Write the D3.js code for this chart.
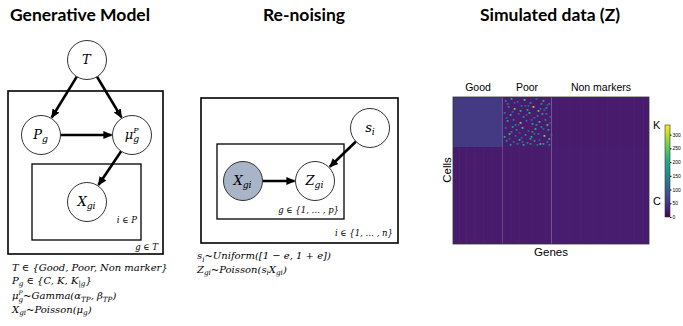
<!DOCTYPE html>
<html>
<head>
<meta charset="utf-8">
<script src="https://cdn.jsdelivr.net/npm/d3@7"></script>
<style>
  body { margin: 0; background: #fff; }
  svg { display: block; }
</style>
</head>
<body>
<svg id="chart"></svg>
<script>
// ---- data ----
const panelTitles = ["Generative Model", "Re-noising", "Simulated data (Z)"]

const geneGroups = ["Good", "Poor", "Non markers"]
const geneCounts = [50, 49, 98]
const cellGroups = ["K", "C"]
const cellCounts = [50, 97]
// mean count per block: rows = cell groups, cols = gene groups
const blockMeans = [
  [55, 26, 24],
  [24, 24, 25],
]
// faint gene stripes: [gene, value]
const geneStripes = [
  [6, 34], [13, 36], [21, 33], [30, 35], [38, 34], [57, 33], [66, 35], [79, 34],
  [92, 32], [104, 34], [117, 33], [128, 35], [141, 33], [155, 34], [168, 32], [182, 34], [191, 33],
]
// bright spots in the Poor / K block: [gene, cell, value]
const poorSpots = [
  [2,3,150],[8,1,200],[14,4,120],[21,2,240],[27,5,160],[33,1,110],[40,3,210],[46,6,140],
  [5,9,170],[11,11,260],[18,8,130],[24,12,190],[30,9,290],[37,11,120],[43,10,170],
  [1,15,140],[7,17,220],[15,16,100],[20,19,170],[26,15,230],[34,18,130],[39,16,190],[47,19,110],
  [4,23,200],[10,22,130],[17,25,270],[23,23,120],[29,26,180],[36,24,220],[42,22,140],
  [2,30,120],[9,29,190],[13,32,150],[19,30,240],[25,33,110],[32,31,210],[38,29,150],[45,32,180],
  [6,36,230],[12,38,120],[22,37,170],[28,39,200],[35,36,130],[41,38,280],[48,37,140],
  [3,43,160],[10,44,110],[16,42,210],[24,45,140],[31,43,180],[37,46,230],[44,44,120],
  [7,47,170],[14,46,130],[20,47,200],[27,46,150],[34,47,110],[40,46,190],[46,47,140],
  [4,6,130],[17,13,210],[31,20,120],[44,27,240],[8,34,160],[27,41,190],[38,6,170],[12,27,140],
  [22,8,110],[35,13,250],[46,41,210],[19,44,120],[29,34,150],[43,16,130],[1,39,200],[33,27,160],
  [11,5,90],[25,8,100],[41,12,95],[3,20,110],[15,27,90],[28,22,105],[40,31,100],[6,41,95],
  [18,40,105],[36,42,90],[47,25,100],[23,17,95],[9,14,110],[31,36,100],[44,7,95],[16,35,90],
]
const colorTicks = [0, 50, 100, 150, 200, 250, 300]
const colorMax = 335

// graphical model nodes and edges
const genNodes = [
  { id: "T", label: ["T"] },
  { id: "P", label: ["P", { sub: "g" }] },
  { id: "mu", label: ["μ", { sub: "g", sup: "P" }] },
  { id: "X", label: ["X", { sub: "gi" }] },
]
const genEdges = [["T", "P"], ["T", "mu"], ["P", "mu"], ["mu", "X"]]
const noiseNodes = [
  { id: "s", label: ["s", { sub: "i" }] },
  { id: "X2", label: ["X", { sub: "gi" }], observed: true },
  { id: "Z", label: ["Z", { sub: "gi" }] },
]
const noiseEdges = [["X2", "Z"], ["s", "Z"]]

const genFormulas = [
  ["T ∈ {Good, Poor, Non marker}"],
  ["P", { sub: "g" }, " ∈ {C, K, K", { sub: "|g" }, "}"],
  ["μ", { sub: "g", sup: "P" }, "~Gamma(α", { sub: "TP" }, ", β", { sub: "TP" }, ")"],
  ["X", { sub: "gi" }, "~Poisson(μ", { sub: "g" }, ")"],
]
const noiseFormulas = [
  ["s", { sub: "i" }, "~Uniform([1 − e, 1 + e])"],
  ["Z", { sub: "gi" }, "~Poisson(s", { sub: "i" }, "X", { sub: "gi" }, ")"],
]
const plateLabels = ["i ∈ P", "g ∈ T", "g ∈ {1, … , p}", "i ∈ {1, … , n}"]

// ---- layout ----
const width = 683, height = 326
const nodePos = {
  T: [87, 60], P: [41, 135], mu: [132, 135], X: [87, 202],
  s: [370, 128], X2: [243, 181], Z: [315, 181],
}
const nodeR = 19.5
const mathFont = "DejaVu Serif"
const sansFont = "Liberation Sans, Arial, sans-serif"

const svg = d3.select("#chart").attr("width", width).attr("height", height)

const defs = svg.append("defs")
defs.append("marker")
  .attr("id", "arrow")
  .attr("viewBox", "0 -5 10 10")
  .attr("refX", 9).attr("refY", 0)
  .attr("markerUnits", "userSpaceOnUse")
  .attr("markerWidth", 9).attr("markerHeight", 9)
  .attr("orient", "auto")
  .append("path").attr("d", "M0,-4.5L10,0L0,4.5Z").attr("fill", "#000")

// titles
const titleX = [80, 304, 550]
svg.selectAll("text.title")
  .data(panelTitles)
  .join("text")
  .attr("class", "title")
  .attr("x", (d, i) => titleX[i]).attr("y", 21)
  .attr("text-anchor", "middle")
  .attr("font-family", "Lato, 'Open Sans', sans-serif")
  .attr("font-weight", "bold")
  .attr("font-size", 17.5)
  .text((d) => d)

// write math-ish text made of plain / sub / sup segments
// a sub+sup pair: the sup is drawn as its own small text above the sub
function mathText(parent, x, y, segs, size, attrs, supLift) {
  const t = parent.append("text").attr("x", x).attr("y", y)
  attrs(t)
  let shift = 0
  const extras = []
  segs.forEach((s) => {
    if (typeof s === "string") {
      t.append("tspan").attr("dy", -shift).text(s)
      shift = 0
    } else {
      const sub = t.append("tspan").attr("font-size", size * 0.72)
        .attr("dy", size * 0.25 - shift).text(s.sub)
      shift = size * 0.25
      if (s.sup) extras.push({ sub, sup: s.sup })
    }
  })
  const n = t.node()
  const spans = Array.from(n.querySelectorAll("tspan"))
  extras.forEach((e) => {
    const idx = spans.indexOf(e.sub.node())
    const charIdx = spans.slice(0, idx).reduce((a, s) => a + s.textContent.length, 0)
    const start = n.getStartPositionOfChar(charIdx)
    const st = parent.append("text")
      .attr("x", start.x).attr("y", y - size * supLift)
    attrs(st)
    st.attr("font-size", size * 0.62).text(e.sup)
  })
  return t
}

const mathAttrs = (size) => (s) => s
  .attr("font-family", mathFont).attr("font-style", "italic").attr("font-size", size)

// plates
const plates = [
  [8, 91, 163, 254], [32, 164, 141, 240],
  [201, 98, 398, 243], [217, 144, 344, 219],
]
svg.selectAll("rect.plate")
  .data(plates)
  .join("rect")
  .attr("class", "plate")
  .attr("x", (d) => d[0]).attr("y", (d) => d[1])
  .attr("width", (d) => d[2] - d[0]).attr("height", (d) => d[3] - d[1])
  .attr("fill", "none").attr("stroke", "#000")
  .attr("stroke-width", (d, i) => (i % 2 === 0 ? 1.6 : 1.3))

const plateLabelPos = [[137, 223], [158, 250], [339, 213], [393, 236]]
plateLabels.forEach((t, i) => {
  svg.append("text")
    .attr("x", plateLabelPos[i][0]).attr("y", plateLabelPos[i][1])
    .attr("text-anchor", "end")
    .attr("font-family", mathFont).attr("font-style", "italic")
    .attr("font-size", 8.5)
    .text(t)
})

// edges
function drawEdges(edges) {
  edges.forEach(([a, b]) => {
    const p = nodePos[a], q = nodePos[b]
    const dx = q[0] - p[0], dy = q[1] - p[1]
    const len = Math.hypot(dx, dy)
    const ux = dx / len, uy = dy / len
    svg.append("line")
      .attr("x1", p[0] + ux * nodeR).attr("y1", p[1] + uy * nodeR)
      .attr("x2", q[0] - ux * (nodeR + 1)).attr("y2", q[1] - uy * (nodeR + 1))
      .attr("stroke", "#000").attr("stroke-width", 2.6)
      .attr("marker-end", "url(#arrow)")
  })
}
drawEdges(genEdges)
drawEdges(noiseEdges)

// nodes
function drawNodes(nodes) {
  nodes.forEach((n) => {
    const [cx, cy] = nodePos[n.id]
    svg.append("circle")
      .attr("cx", cx).attr("cy", cy).attr("r", nodeR)
      .attr("fill", n.observed ? "#a8b5c9" : "#fff")
      .attr("stroke", "#333").attr("stroke-width", 1)
    const g = svg.append("g")
    const t = mathText(g, 0, cy + 4, n.label, 13, mathAttrs(13), 0.5)
    const w = t.node().getBBox().width
    g.attr("transform", `translate(${cx - w / 2},0)`)
  })
}
drawNodes(genNodes)
drawNodes(noiseNodes)

// formulas
function drawFormulas(lines, x0, ys) {
  lines.forEach((segs, i) => {
    mathText(svg, x0, ys[i], segs, 10, mathAttrs(10), 0.42)
  })
}
drawFormulas(genFormulas, 12, [270.5, 283.5, 299, 312.5])
drawFormulas(noiseFormulas, 197, [259, 272.5])

// ---- heatmap ----
const nGenes = d3.sum(geneCounts), nCells = d3.sum(cellCounts)
const hx = d3.scaleLinear().domain([0, nGenes]).range([453, 649])
const hy = d3.scaleLinear().domain([0, nCells]).range([97, 244])
const color = d3.scaleSequential(d3.interpolateViridis).domain([0, colorMax])
const geneStart = d3.cumsum([0, ...geneCounts])
const cellStart = d3.cumsum([0, ...cellCounts])

const blocks = []
cellGroups.forEach((c, ci) => {
  geneGroups.forEach((g, gi) => {
    blocks.push({ ci, gi, v: blockMeans[ci][gi] })
  })
})
const heat = svg.append("g")
heat.selectAll("rect.block")
  .data(blocks)
  .join("rect")
  .attr("class", "block")
  .attr("x", (d) => hx(geneStart[d.gi]))
  .attr("y", (d) => hy(cellStart[d.ci]))
  .attr("width", (d) => hx(geneStart[d.gi] + geneCounts[d.gi]) - hx(geneStart[d.gi]))
  .attr("height", (d) => hy(cellStart[d.ci] + cellCounts[d.ci]) - hy(cellStart[d.ci]))
  .attr("fill", (d) => color(d.v))

heat.selectAll("rect.stripe")
  .data(geneStripes)
  .join("rect")
  .attr("class", "stripe")
  .attr("x", (d) => hx(d[0]))
  .attr("y", (d) => (d[0] < geneCounts[0] ? hy(cellCounts[0]) : hy(0)))
  .attr("width", (d) => hx(1) - hx(0))
  .attr("height", (d) => (d[0] < geneCounts[0] ? hy(nCells) - hy(cellCounts[0]) : hy(nCells) - hy(0)))
  .attr("fill", (d) => color(d[1]))
  .attr("opacity", 0.8)

heat.selectAll("rect.spot")
  .data(poorSpots)
  .join("rect")
  .attr("class", "spot")
  .attr("x", (d) => hx(geneStart[1] + d[0]))
  .attr("y", (d) => hy(d[1]))
  .attr("width", 1.8).attr("height", 1.8)
  .attr("fill", (d) => color(d[2]))

heat.append("rect")
  .attr("x", hx(0)).attr("y", hy(0))
  .attr("width", hx(nGenes) - hx(0)).attr("height", hy(nCells) - hy(0))
  .attr("fill", "none").attr("stroke", "#333").attr("stroke-width", 0.8)

// group labels
svg.selectAll("text.ggroup")
  .data(geneGroups)
  .join("text")
  .attr("class", "ggroup")
  .attr("x", (d, i) => [478, 527, 601][i]).attr("y", 91)
  .attr("text-anchor", "middle")
  .attr("font-family", sansFont)
  .attr("font-size", 10.5)
  .text((d) => d)

svg.append("text")
  .attr("x", hx(nGenes / 2)).attr("y", 256)
  .attr("text-anchor", "middle")
  .attr("font-family", sansFont)
  .attr("font-size", 11.5)
  .text("Genes")
svg.append("text")
  .attr("transform", "translate(451,170) rotate(-90)")
  .attr("text-anchor", "middle")
  .attr("font-family", sansFont)
  .attr("font-size", 11.5)
  .text("Cells")

const cellLabelY = [129, 205]
svg.selectAll("text.cgroup")
  .data(cellGroups)
  .join("text")
  .attr("class", "cgroup")
  .attr("x", 653).attr("y", (d, i) => cellLabelY[i])
  .attr("font-family", sansFont)
  .attr("font-size", 11)
  .text((d) => d)

// colorbar
const cb = { x: 665, w: 5, y0: 125, y1: 217 }
const grad = defs.append("linearGradient").attr("id", "viridis")
  .attr("x1", 0).attr("y1", 1).attr("x2", 0).attr("y2", 0)
d3.range(0, 1.0001, 0.1).forEach((t) => {
  grad.append("stop").attr("offset", t).attr("stop-color", d3.interpolateViridis(t))
})
svg.append("rect")
  .attr("x", cb.x).attr("y", cb.y0).attr("width", cb.w).attr("height", cb.y1 - cb.y0)
  .attr("fill", "url(#viridis)").attr("stroke", "#333").attr("stroke-width", 0.6)
const cbScale = d3.scaleLinear().domain([0, colorMax]).range([cb.y1, cb.y0])
const cbAxis = svg.append("g")
  .attr("transform", `translate(${cb.x + cb.w},0)`)
  .call(d3.axisRight(cbScale).tickValues(colorTicks).tickSize(1.5).tickPadding(1))
cbAxis.select(".domain").remove()
cbAxis.selectAll("text").attr("font-size", 5).attr("font-family", sansFont)
</script>
</body>
</html>
